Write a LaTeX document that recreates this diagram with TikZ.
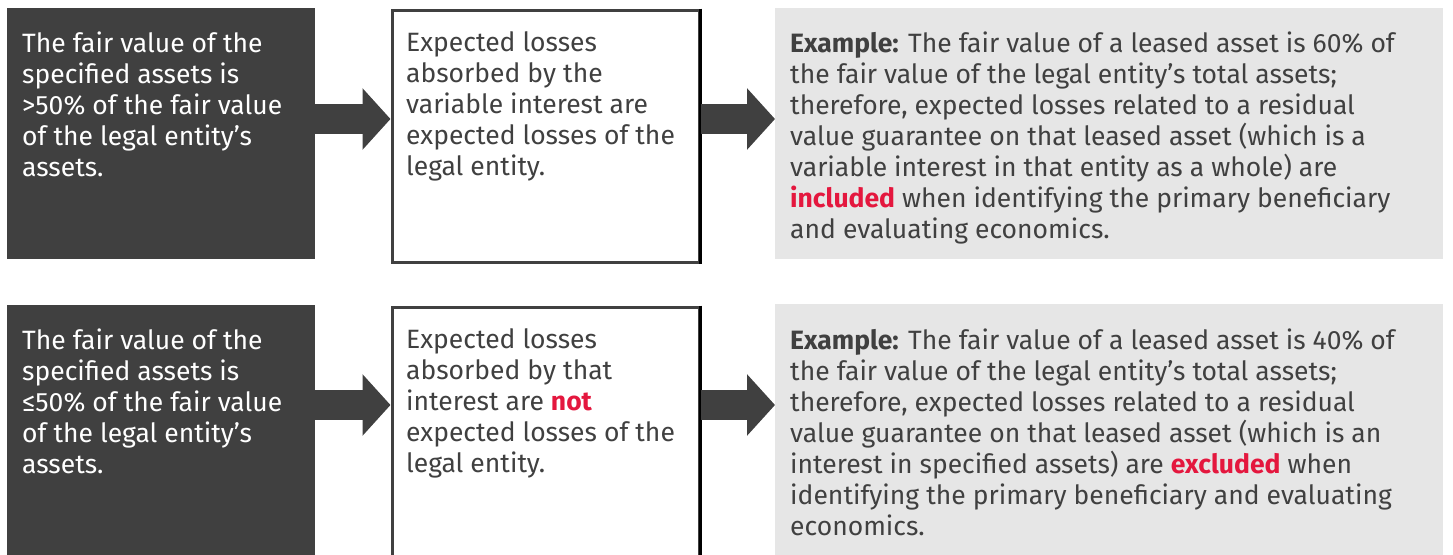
\documentclass[tikz,border=0pt]{standalone}
\usepackage{fontspec}
\setmainfont{Fira Sans}
\usetikzlibrary{arrows.meta}
\definecolor{boxdark}{HTML}{404040}
\definecolor{boxgray}{HTML}{E6E6E6}
\definecolor{txtgray}{HTML}{404040}
\definecolor{accent}{HTML}{E4173E}
\begin{document}
\begin{tikzpicture}[x=1pt,y=-1pt,
  darkbox/.style={fill=boxdark, draw=none, anchor=north west, inner sep=0pt, minimum width=308pt},
  whitebox/.style={fill=white, draw=boxdark, line width=3pt, anchor=north west, inner sep=0pt, minimum width=307pt},
  graybox/.style={fill=boxgray, draw=none, anchor=north west, inner sep=0pt, minimum width=668pt},
  txt/.style={anchor=north west, inner sep=0pt, align=left, font=\fontsize{26.5}{31}\selectfont, text=txtgray},
  bigarrow/.style={draw=boxdark, line width=30pt, -{Triangle[length=28pt, width=60pt]}}]
\useasboundingbox (0,0) rectangle (1453,554);
\clip (0,0) rectangle (1453,554);
\fill[white] (0,0) rectangle (1453,554);
% row 1
\node[darkbox, minimum height=251pt] (d1) at (7,8) {};
\node[whitebox, minimum height=252pt] (w1) at (390.5,8.5) {};
\node[graybox, minimum height=251pt] (g1) at (775,8) {};
% row 2
\node[darkbox, minimum height=260pt] (d2) at (7,305) {};
\node[whitebox, minimum height=260pt] (w2) at (390.5,305.5) {};
\node[graybox, minimum height=260pt] (g2) at (775,304) {};
% right edges of white boxes
\draw[black, line width=3pt] (w1.north east) -- (w1.south east);
\draw[black, line width=3pt] (w2.north east) -- (w2.south east);
% arrows
\coordinate (r1) at (0,119);
\coordinate (r2) at (0,405);
\draw[bigarrow] (d1.east |- r1) -- (w1.west |- r1);
\draw[bigarrow] (w1.east |- r1) -- (g1.west |- r1);
\draw[bigarrow] (d2.east |- r2) -- (w2.west |- r2);
\draw[bigarrow] (w2.east |- r2) -- (g2.west |- r2);
% texts row 1
\node[txt, text=white] (t1) at (22,31.5) {The fair value of the\\specified assets is\\>50\% of the fair value\\of the legal entity’s\\assets.};
\node[txt] (t2) at (406,31.5) {Expected losses\\absorbed by the\\variable interest are\\expected losses of the\\legal entity.};
\node[txt] (t3) at (790,31.5) {\textbf{Example:} The fair value of a leased asset is 60\% of\\the fair value of the legal entity’s total assets;\\therefore, expected losses related to a residual\\value guarantee on that leased asset (which is a\\variable interest in that entity as a whole) are\\\textbf{\textcolor{accent}{included}} when identifying the primary beneficiary\\and evaluating economics.};
% texts row 2
\node[txt, text=white] (t4) at (22,328.5) {The fair value of the\\specified assets is\\≤50\% of the fair value\\of the legal entity’s\\assets.};
\node[txt] (t5) at (406,328.5) {Expected losses\\absorbed by that\\interest are \textbf{\textcolor{accent}{not}}\\expected losses of the\\legal entity.};
\node[txt] (t6) at (790,328.5) {\textbf{Example:} The fair value of a leased asset is 40\% of\\the fair value of the legal entity’s total assets;\\therefore, expected losses related to a residual\\value guarantee on that leased asset (which is an\\interest in specified assets) are \textbf{\textcolor{accent}{excluded}} when\\identifying the primary beneficiary and evaluating\\economics.};
\end{tikzpicture}
\end{document}
